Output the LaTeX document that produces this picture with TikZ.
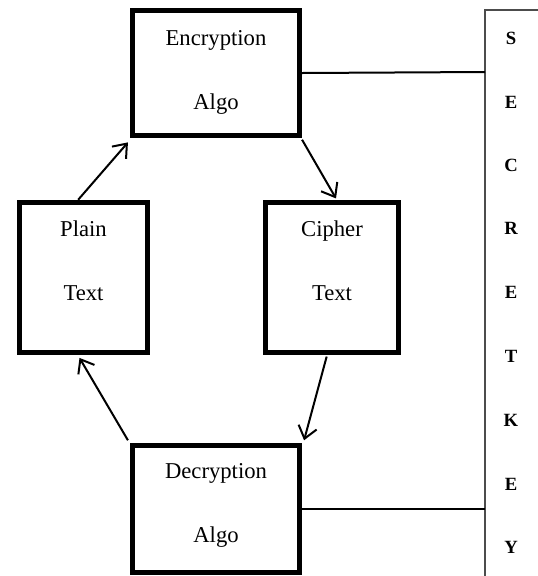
\documentclass[tikz,border=0pt]{standalone}
\usepackage{fontspec}
\setmainfont{Liberation Serif}
\usetikzlibrary{arrows.meta}
\begin{document}
\begin{tikzpicture}[x=0.75pt,y=-0.75pt,
  box/.style={draw,line width=4.1pt,rectangle,inner sep=0pt},
  lbl/.style={align=center,font=\fontsize{17}{48}\selectfont},
  klet/.style={font=\fontsize{14}{15}\selectfont\bfseries},
  arr/.style={line width=1.5pt,-{Straight Barb[length=9pt,width=14pt,line width=1.5pt]}},
  keyline/.style={line width=1.5pt}]
\useasboundingbox (0,0) rectangle (538,576);
% boxes
\node[box,minimum width=125pt,minimum height=94pt] (enc) at (216,73) {};
\node[lbl] (enct) at (216,72) {Encryption\\Algo};
\node[box,minimum width=96pt,minimum height=112.5pt] (plain) at (83.5,277.5) {};
\node[lbl] (plaint) at (83.5,261) {Plain\\Text};
\node[box,minimum width=100pt,minimum height=112.5pt] (cipher) at (332,277.5) {};
\node[lbl] (ciphert) at (332,261) {Cipher\\Text};
\node[box,minimum width=125pt,minimum height=95pt] (dec) at (216,509) {};
\node[lbl] (dect) at (216,505.5) {Decryption\\Algo};
% key box
\draw[line width=1.1pt,black!70] (545,10) -- (485,10) -- (485,585);
\coordinate (kA) at (485,72);
\coordinate (kB) at (485,509);
\foreach \l/\yy [count=\i] in {S/38,E/102,C/165,R/228,E/292,T/356,K/420,E/484,Y/547}
  \node[klet] (k\i) at (511,\yy) {\l};
% connectors
\draw[arr] ([xshift=-4pt]plain.north) -- ([xshift=-1.5pt,yshift=-3pt]enc.south west);
\draw[arr] ([yshift=-1pt]enc.south east) -- ([xshift=3pt,yshift=1pt]cipher.north);
\draw[arr] ([xshift=-4pt,yshift=-1pt]cipher.south) -- ([xshift=1.5pt,yshift=2pt]dec.north east);
\draw[arr] ([xshift=-1.5pt,yshift=2pt]dec.north west) -- ([xshift=-3pt,yshift=-2pt]plain.south);
\draw[keyline] (enc.east) -- (kA);
\draw[keyline] (dec.east) -- (kB);
\end{tikzpicture}
\end{document}
